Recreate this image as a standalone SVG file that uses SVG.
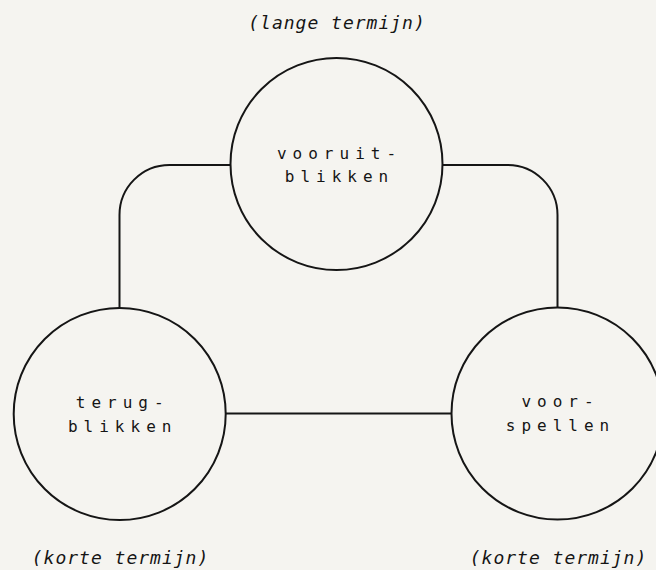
<svg xmlns="http://www.w3.org/2000/svg" width="656" height="570" viewBox="0 0 656 570">
<style>
.bg{fill:#f5f4f0}
.node{fill:#f5f4f0;stroke:#151515;stroke-width:2}
.conn{fill:none;stroke:#151515;stroke-width:2}
.lbl{font-family:"DejaVu Sans Mono","Liberation Mono",monospace;font-size:16px;letter-spacing:6px;fill:#151515;text-anchor:middle}
.note{font-family:"DejaVu Sans Mono","Liberation Mono",monospace;font-style:italic;font-size:18px;letter-spacing:1px;fill:#151515;text-anchor:middle}
</style>
<rect class="bg" x="0" y="0" width="656" height="570"/>
<g id="connectors">
<path class="conn" d="M119.5,308 V215 A50,50 0 0 1 169.5,165 H231"/>
<path class="conn" d="M442,165 H507.5 A50,50 0 0 1 557.5,215 V308"/>
<path class="conn" d="M226,413.5 H452"/>
</g>
<g id="vooruitblikken">
<circle class="node" cx="336.5" cy="164" r="106"/>
<text class="lbl" x="339.5" y="159">vooruit-</text>
<text class="lbl" x="339.5" y="182">blikken</text>
</g>
<g id="terugblikken">
<circle class="node" cx="119.7" cy="414" r="106"/>
<text class="lbl" x="122.7" y="408">terug-</text>
<text class="lbl" x="122.7" y="431.5">blikken</text>
</g>
<g id="voorspellen">
<circle class="node" cx="557.5" cy="413.5" r="106"/>
<text class="lbl" x="560.5" y="407">voor-</text>
<text class="lbl" x="560.5" y="430.5">spellen</text>
</g>
<text class="note" x="337" y="29">(lange termijn)</text>
<text class="note" x="120.5" y="564">(korte termijn)</text>
<text class="note" x="558.5" y="564">(korte termijn)</text>
</svg>
